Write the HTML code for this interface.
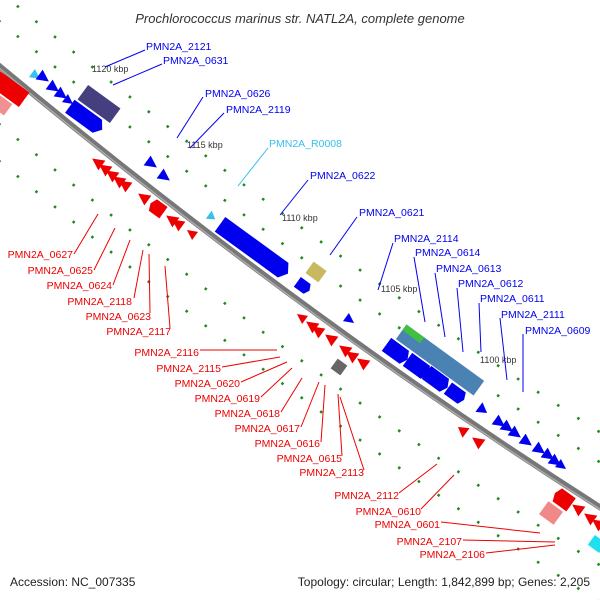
<!DOCTYPE html>
<html><head><meta charset="utf-8"><style>
html,body{margin:0;padding:0;background:#fff;width:600px;height:600px;overflow:hidden}
svg{display:block}
text{font-family:"Liberation Sans",sans-serif}
</style></head><body>
<svg width="600" height="600" viewBox="0 0 600 600" xmlns="http://www.w3.org/2000/svg">
<defs>
<path id="bb" d="M-20,50 Q300,318 620,520" fill="none"/>
</defs>
<text x="300" y="23" text-anchor="middle" font-size="13" font-style="italic" fill="#333">Prochlorococcus marinus str. NATL2A, complete genome</text>

<!-- green tracks -->
<g stroke="#1f8a1f" stroke-width="2.6" fill="none" stroke-dasharray="2.5 21.5">
<use href="#bb" transform="translate(0,-75)"/>
<use href="#bb" transform="translate(0,-45)"/>
<use href="#bb" transform="translate(0,58)"/>
<use href="#bb" transform="translate(0,95)"/>
</g>
<!-- backbone -->
<path d="M-20,50 Q300,318 620,520" fill="none" stroke="#777" stroke-width="6"/>
<path d="M-20,52 Q300,320 620,522" fill="none" stroke="#aaa" stroke-width="1.5"/>

<!-- blue genes -->
<g fill="#0000ee">
<g transform="translate(36,76) rotate(36)"><polygon points="-5,-5 5,0 -5,5" fill="#35c0ee"/></g>
<g transform="translate(44,78) rotate(36)"><polygon points="-6,-6 6,0 -6,6"/></g>
<g transform="translate(54,88) rotate(36)"><polygon points="-6,-6 6,0 -6,6"/></g>
<g transform="translate(62,95) rotate(36)"><polygon points="-6,-6 6,0 -6,6"/></g>
<g transform="translate(69,101) rotate(36)"><polygon points="-5,-5 5,0 -5,5"/></g>
<g transform="translate(86,118) rotate(36)"><polygon points="-20,-8 14,-8 20,0 14,8 -20,8"/></g>
<g transform="translate(99,104) rotate(36)"><rect x="-20" y="-9" width="40" height="18" fill="#453f80"/></g>
<g transform="translate(152,164) rotate(36)"><polygon points="-6,-6 6,0 -6,6"/></g>
<g transform="translate(165,177) rotate(36)"><polygon points="-6,-6 6,0 -6,6"/></g>
<g transform="translate(212,217) rotate(36)"><polygon points="-4,-5 4,0 -4,5" fill="#35c0ee"/></g>
<g transform="translate(254,249) rotate(36)"><polygon points="-42,-9 36,-9 42,0 36,9 -42,9"/></g>
<g transform="translate(303,286) rotate(36)"><polygon points="-7,-6 5,-6 8,0 5,6 -7,6"/></g>
<g transform="translate(316,272) rotate(36)"><rect x="-8" y="-7" width="16" height="14" fill="#c8b860"/></g>
<g transform="translate(350,320) rotate(36)"><polygon points="-5,-5 5,0 -5,5"/></g>
<g transform="translate(440,360) rotate(36)"><rect x="-48" y="-9" width="96" height="18" fill="#4a82b4"/><rect x="-48" y="-9" width="22" height="7" fill="#40c040"/></g>
<g transform="translate(397,352) rotate(36)"><polygon points="-13,-8 9,-8 13,0 9,8 -13,8"/></g>
<g transform="translate(418,367) rotate(36)"><polygon points="-13,-8 9,-8 13,0 9,8 -13,8"/></g>
<g transform="translate(437,380) rotate(36)"><polygon points="-13,-8 9,-8 13,0 9,8 -13,8"/></g>
<g transform="translate(456,394) rotate(36)"><polygon points="-10,-7 7,-7 10,0 7,7 -10,7"/></g>
<g transform="translate(483,410) rotate(36)"><polygon points="-5,-6 5,0 -5,6"/></g>
<g transform="translate(500,423) rotate(36)"><polygon points="-6,-6 6,0 -6,6"/></g>
<g transform="translate(508,428) rotate(36)"><polygon points="-6,-6 6,0 -6,6"/></g>
<g transform="translate(516,434) rotate(36)"><polygon points="-6,-6 6,0 -6,6"/></g>
<g transform="translate(527,442) rotate(36)"><polygon points="-6,-6 6,0 -6,6"/></g>
<g transform="translate(540,450) rotate(36)"><polygon points="-6,-6 6,0 -6,6"/></g>
<g transform="translate(549,456) rotate(36)"><polygon points="-6,-6 6,0 -6,6"/></g>
<g transform="translate(556,462) rotate(36)"><polygon points="-6,-6 6,0 -6,6"/></g>
<g transform="translate(562,466) rotate(36)"><polygon points="-5,-5 5,0 -5,5"/></g>
<g transform="translate(597,544) rotate(36)"><rect x="-7" y="-6" width="14" height="12" fill="#1ee0f0"/></g>
</g>

<!-- red genes -->
<g fill="#ee0000">
<g transform="translate(8,88) rotate(36)"><rect x="-20" y="-9" width="40" height="18"/></g>
<g transform="translate(0,104) rotate(36)"><rect x="-10" y="-7" width="20" height="14" fill="#f09090"/></g>
<g transform="translate(97,162) rotate(36)"><polygon points="6,-6 -6,0 6,6"/></g>
<g transform="translate(104,168) rotate(36)"><polygon points="6,-6 -6,0 6,6"/></g>
<g transform="translate(111,174) rotate(36)"><polygon points="6,-6 -6,0 6,6"/></g>
<g transform="translate(118,180) rotate(36)"><polygon points="6,-6 -6,0 6,6"/></g>
<g transform="translate(124,184) rotate(36)"><polygon points="6,-6 -6,0 6,6"/></g>
<g transform="translate(143,197) rotate(36)"><polygon points="6,-6 -6,0 6,6"/></g>
<g transform="translate(157,208) rotate(36)"><polygon points="8,-7 -5,-7 -8,0 -5,7 8,7"/></g>
<g transform="translate(171,219) rotate(36)"><polygon points="6,-6 -6,0 6,6"/></g>
<g transform="translate(177,223) rotate(36)"><polygon points="6,-6 -6,0 6,6"/></g>
<g transform="translate(191,233) rotate(36)"><polygon points="5,-5 -5,0 5,5"/></g>
<g transform="translate(301,317) rotate(36)"><polygon points="5,-5 -5,0 5,5"/></g>
<g transform="translate(311,325) rotate(36)"><polygon points="6,-6 -6,0 6,6"/></g>
<g transform="translate(317,330) rotate(36)"><polygon points="6,-6 -6,0 6,6"/></g>
<g transform="translate(330,338) rotate(36)"><polygon points="6,-6 -6,0 6,6"/></g>
<g transform="translate(344,349) rotate(36)"><polygon points="6,-6 -6,0 6,6"/></g>
<g transform="translate(351,355) rotate(36)"><polygon points="6,-6 -6,0 6,6"/></g>
<g transform="translate(362,362) rotate(36)"><polygon points="6,-6 -6,0 6,6"/></g>
<g transform="translate(339,367) rotate(36)"><rect x="-6" y="-6" width="12" height="12" fill="#666"/></g>
<g transform="translate(462,430) rotate(36)"><polygon points="5,-6 -5,0 5,6"/></g>
<g transform="translate(477,441) rotate(36)"><polygon points="6,-6 -6,0 6,6"/></g>
<g transform="translate(563,499) rotate(36)"><polygon points="10,-8 -7,-8 -10,0 -7,8 10,8"/></g>
<g transform="translate(551,513) rotate(36)"><rect x="-9" y="-8" width="18" height="16" fill="#f08888"/></g>
<g transform="translate(577,508) rotate(36)"><polygon points="6,-6 -6,0 6,6"/></g>
<g transform="translate(589,517) rotate(36)"><polygon points="6,-6 -6,0 6,6"/></g>
<g transform="translate(597,523) rotate(36)"><polygon points="6,-6 -6,0 6,6"/></g>
</g>

<!-- kbp labels -->
<g font-size="9" fill="#333">
<text x="92" y="72">1120 kbp</text>
<text x="187" y="148">1115 kbp</text>
<text x="282" y="221">1110 kbp</text>
<text x="381" y="292">1105 kbp</text>
<text x="480" y="363">1100 kbp</text>
</g>

<!-- blue labels -->
<g stroke="#0000ee" stroke-width="1">
<line x1="145" y1="50" x2="105" y2="67"/>
<line x1="162" y1="64" x2="113" y2="85"/>
<line x1="203" y1="97" x2="177" y2="138"/>
<line x1="224" y1="113" x2="190" y2="148"/>
<line x1="268" y1="148" x2="238" y2="186" stroke="#35c0ee"/>
<line x1="308" y1="180" x2="280" y2="215"/>
<line x1="357" y1="217" x2="330" y2="255"/>
<line x1="393" y1="243" x2="378" y2="290"/>
<line x1="414" y1="257" x2="425" y2="322"/>
<line x1="435" y1="273" x2="445" y2="337"/>
<line x1="457" y1="288" x2="463" y2="352"/>
<line x1="479" y1="303" x2="481" y2="352"/>
<line x1="500" y1="318" x2="507" y2="380"/>
<line x1="523" y1="334" x2="523" y2="392"/>
</g>
<g font-size="10.5" fill="#0000ee">
<text x="146" y="50">PMN2A_2121</text>
<text x="163" y="64">PMN2A_0631</text>
<text x="205" y="97">PMN2A_0626</text>
<text x="226" y="113">PMN2A_2119</text>
<text x="269" y="147" fill="#35c0ee">PMN2A_R0008</text>
<text x="310" y="179">PMN2A_0622</text>
<text x="359" y="216">PMN2A_0621</text>
<text x="394" y="242">PMN2A_2114</text>
<text x="415" y="256">PMN2A_0614</text>
<text x="436" y="272">PMN2A_0613</text>
<text x="458" y="287">PMN2A_0612</text>
<text x="480" y="302">PMN2A_0611</text>
<text x="501" y="318">PMN2A_2111</text>
<text x="525" y="334">PMN2A_0609</text>
</g>

<!-- red labels -->
<g stroke="#ee0000" stroke-width="1">
<line x1="74" y1="254" x2="98" y2="214"/>
<line x1="94" y1="270" x2="115" y2="228"/>
<line x1="113" y1="285" x2="130" y2="240"/>
<line x1="134" y1="298" x2="143" y2="250"/>
<line x1="150" y1="313" x2="149" y2="254"/>
<line x1="170" y1="328" x2="165" y2="266"/>
<line x1="200" y1="350" x2="277" y2="350"/>
<line x1="222" y1="367" x2="280" y2="357"/>
<line x1="241" y1="382" x2="287" y2="362"/>
<line x1="261" y1="397" x2="292" y2="368"/>
<line x1="281" y1="412" x2="302" y2="378"/>
<line x1="301" y1="427" x2="319" y2="382"/>
<line x1="321" y1="442" x2="325" y2="385"/>
<line x1="342" y1="456" x2="338" y2="394"/>
<line x1="364" y1="470" x2="340" y2="397"/>
<line x1="399" y1="493" x2="437" y2="464"/>
<line x1="421" y1="509" x2="454" y2="475"/>
<line x1="441" y1="522" x2="540" y2="533"/>
<line x1="463" y1="540" x2="555" y2="542"/>
<line x1="486" y1="553" x2="555" y2="545"/>
</g>
<g font-size="10.5" fill="#ee0000" text-anchor="end">
<text x="73" y="258">PMN2A_0627</text>
<text x="93" y="274">PMN2A_0625</text>
<text x="112" y="289">PMN2A_0624</text>
<text x="132" y="305">PMN2A_2118</text>
<text x="151" y="320">PMN2A_0623</text>
<text x="171" y="335">PMN2A_2117</text>
<text x="199" y="356">PMN2A_2116</text>
<text x="221" y="372">PMN2A_2115</text>
<text x="240" y="387">PMN2A_0620</text>
<text x="260" y="402">PMN2A_0619</text>
<text x="280" y="417">PMN2A_0618</text>
<text x="300" y="432">PMN2A_0617</text>
<text x="320" y="447">PMN2A_0616</text>
<text x="342" y="462">PMN2A_0615</text>
<text x="364" y="476">PMN2A_2113</text>
<text x="399" y="499">PMN2A_2112</text>
<text x="421" y="515">PMN2A_0610</text>
<text x="440" y="528">PMN2A_0601</text>
<text x="462" y="545">PMN2A_2107</text>
<text x="485" y="558">PMN2A_2106</text>
</g>

<text x="10" y="586" font-size="12" fill="#222">Accession: NC_007335</text>
<text x="590" y="586" font-size="12" fill="#222" text-anchor="end">Topology: circular; Length: 1,842,899 bp; Genes: 2,205</text>
</svg>
</body></html>
